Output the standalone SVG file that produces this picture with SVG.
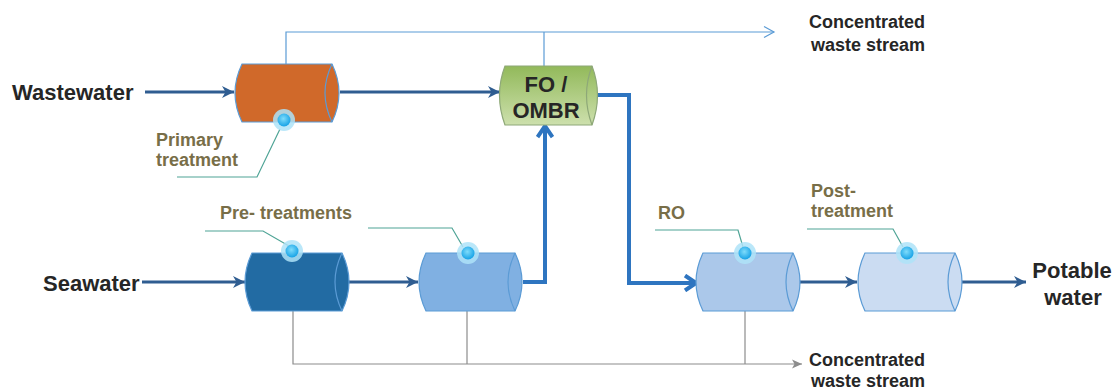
<svg xmlns="http://www.w3.org/2000/svg" width="1115" height="389" viewBox="0 0 1115 389">
  <style>
    .tank-edge { stroke: #5b9bd5; stroke-width: 1.2; }
    .inner { fill: none; stroke: #5b9bd5; stroke-width: 1.2; }
    .flow { fill: none; stroke: #2f5d91; stroke-width: 3; }
    .main { fill: none; stroke: #2e75c0; stroke-width: 4; }
    .reject-top { fill: none; stroke: #5b9bd5; stroke-width: 1.2; }
    .reject-bot { fill: none; stroke: #8c8c8c; stroke-width: 1.2; }
    .leader { fill: none; stroke: #4fa496; stroke-width: 1.2; }
    .big { font-family: "Liberation Sans", Arial, sans-serif; font-weight: bold; font-size: 22px; fill: #262626; }
    .out { font-family: "Liberation Sans", Arial, sans-serif; font-weight: bold; font-size: 18px; fill: #262626; }
    .lbl { font-family: "Liberation Sans", Arial, sans-serif; font-weight: bold; font-size: 18px; fill: #786e48; }
    .unit { font-family: "Liberation Sans", Arial, sans-serif; font-weight: bold; font-size: 22px; fill: #262626; text-anchor: middle; }
  </style>
  <defs>
    <marker id="head" markerUnits="userSpaceOnUse" markerWidth="14" markerHeight="12" refX="12" refY="6" orient="auto">
      <path d="M0,0 L12,6 L0,12 L3.5,6 Z" fill="#2f5d91"/>
    </marker>
    <marker id="headMain" markerUnits="userSpaceOnUse" markerWidth="16" markerHeight="18" refX="13" refY="9" orient="auto">
      <path d="M2,1.5 L13,9 L2,16.5" fill="none" stroke="#2e75c0" stroke-width="4"/>
    </marker>
    <marker id="openBlue" markerUnits="userSpaceOnUse" markerWidth="14" markerHeight="14" refX="11" refY="7" orient="auto">
      <path d="M1,1.5 L11,7 L1,12.5" fill="none" stroke="#5b9bd5" stroke-width="1.2"/>
    </marker>
    <marker id="openGray" markerUnits="userSpaceOnUse" markerWidth="14" markerHeight="14" refX="11" refY="7" orient="auto">
      <path d="M1,2.5 L11,7 L1,11.5 L3.5,7 Z" fill="#8c8c8c"/>
    </marker>
    <linearGradient id="gFO" x1="0" y1="0" x2="0" y2="1">
      <stop offset="0" stop-color="#92b95a"/>
      <stop offset="1" stop-color="#cde0ad"/>
    </linearGradient>
    <radialGradient id="gDot" cx="0.45" cy="0.4" r="0.6">
      <stop offset="0" stop-color="#7fdcfb"/>
      <stop offset="1" stop-color="#16a2e6"/>
    </radialGradient>
    <g id="dot">
      <circle r="11" fill="#aee3f8" opacity="0.85"/>
      <circle r="6.5" fill="url(#gDot)"/>
    </g>
  </defs>

  <!-- connectors -->
  <g id="connectors">
    <!-- concentrate to the top -->
    <path class="reject-top" d="M286,64 V32 H774" marker-end="url(#openBlue)"/>
    <path class="reject-top" d="M544,66 V32"/>
    <!-- concentrate to the bottom -->
    <path class="reject-bot" d="M293,311 V364 H802" marker-end="url(#openGray)"/>
    <path class="reject-bot" d="M467,311 V364"/>
    <path class="reject-bot" d="M745,311 V364"/>
    <!-- feed lines -->
    <path class="flow" d="M145,92 H234" marker-end="url(#head)"/>
    <path class="flow" d="M340,92 H500" marker-end="url(#head)"/>
    <path class="flow" d="M142,282 H245" marker-end="url(#head)"/>
    <path class="flow" d="M343,282 H418" marker-end="url(#head)"/>
    <path class="flow" d="M794,282 H857" marker-end="url(#head)"/>
    <path class="flow" d="M956,282 H1026" marker-end="url(#head)"/>
    <!-- main streams -->
    <path class="main" d="M523,282 H545 V126" marker-end="url(#headMain)"/>
    <path class="main" d="M596,95 H629 V283 H696" marker-end="url(#headMain)"/>
    <!-- leader lines -->
    <path class="leader" d="M280,129 L257,177 H177"/>
    <path class="leader" d="M289,246 L263,231 H205"/>
    <path class="leader" d="M463,247 L452,228 H368"/>
    <path class="leader" d="M743,247 L738,230 H655"/>
    <path class="leader" d="M903,247 L893,229 H807"/>
  </g>

  <!-- primary treatment -->
  <g id="primary">
    <path class="tank-edge" fill="#d0692a" d="M242,64 H332 Q346,93 332,122 H242 Q228,93 242,64 Z"/>
    <path class="inner" d="M332,64 Q318,93 332,122"/>
    <use href="#dot" x="284" y="120"/>
  </g>

  <!-- FO / OMBR -->
  <g id="fo-ombr">
    <path fill="url(#gFO)" stroke="#8ea878" stroke-width="1.2" d="M505,66 H592 Q603,95 592,125 H505 Q494,95 505,66 Z"/>
    <path fill="none" stroke="#8ea878" stroke-width="1.2" d="M592,66 Q581,95 592,125"/>
    <text class="unit" x="546" y="92">FO /</text>
    <text class="unit" x="546" y="118">OMBR</text>
  </g>

  <!-- seawater pre-treatment 1 -->
  <g id="pretreat-1">
    <path class="tank-edge" fill="#226ba3" d="M252,253 H342 Q356,282 342,311 H252 Q238,282 252,253 Z"/>
    <path class="inner" d="M342,253 Q328,282 342,311"/>
    <use href="#dot" x="292" y="251"/>
  </g>

  <!-- seawater pre-treatment 2 -->
  <g id="pretreat-2">
    <path class="tank-edge" fill="#80b0e2" d="M426,253 H515 Q529,282 515,311 H426 Q412,282 426,253 Z"/>
    <path class="inner" d="M515,253 Q501,282 515,311"/>
    <use href="#dot" x="468" y="253"/>
  </g>

  <!-- RO -->
  <g id="ro">
    <path class="tank-edge" fill="#abc8ea" d="M703,253 H793 Q807,282 793,311 H703 Q689,282 703,253 Z"/>
    <path class="inner" d="M793,253 Q779,282 793,311"/>
    <use href="#dot" x="745" y="253"/>
  </g>

  <!-- post-treatment -->
  <g id="post">
    <path class="tank-edge" fill="#cbdcf2" d="M865,253 H955 Q969,282 955,311 H865 Q851,282 865,253 Z"/>
    <path class="inner" d="M955,253 Q941,282 955,311"/>
    <use href="#dot" x="907" y="253"/>
  </g>

  <!-- labels -->
  <g id="labels">
    <text class="big" x="12" y="100">Wastewater</text>
    <text class="big" x="43" y="291">Seawater</text>
    <text class="big" x="1072" y="278" text-anchor="middle">Potable</text>
    <text class="big" x="1073" y="305" text-anchor="middle">water</text>
    <text class="out" x="809" y="28">Concentrated</text>
    <text class="out" x="811" y="51">waste stream</text>
    <text class="out" x="809" y="366">Concentrated</text>
    <text class="out" x="811" y="387">waste stream</text>
    <text class="lbl" x="156" y="146">Primary</text>
    <text class="lbl" x="156" y="166">treatment</text>
    <text class="lbl" x="220" y="219">Pre- treatments</text>
    <text class="lbl" x="658" y="219">RO</text>
    <text class="lbl" x="811" y="197">Post-</text>
    <text class="lbl" x="811" y="217">treatment</text>
  </g>
</svg>
